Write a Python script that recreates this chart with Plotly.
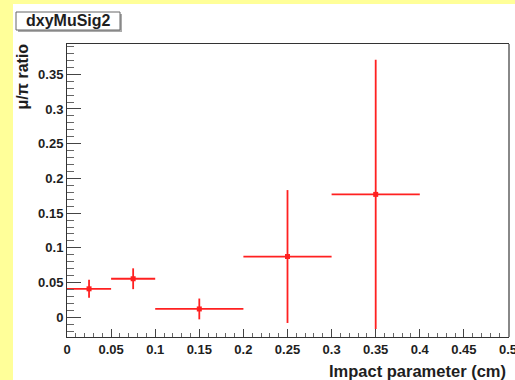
import plotly.graph_objects as go

# Bin centres, half-widths, ratio values and their uncertainties
bin_centres = [0.025, 0.075, 0.15, 0.25, 0.35]
bin_half_widths = [0.025, 0.025, 0.05, 0.05, 0.05]
ratio_values = [0.041, 0.0555, 0.012, 0.0875, 0.177]
ratio_errors = [0.013, 0.015, 0.015, 0.0957, 0.194]

x_tick_values = [0, 0.05, 0.1, 0.15, 0.2, 0.25, 0.3, 0.35, 0.4, 0.45, 0.5]
x_tick_labels = ["0", "0.05", "0.1", "0.15", "0.2", "0.25", "0.3", "0.35", "0.4", "0.45", "0.5"]
y_tick_values = [0, 0.05, 0.1, 0.15, 0.2, 0.25, 0.3, 0.35]
y_tick_labels = ["0", "0.05", "0.1", "0.15", "0.2", "0.25", "0.3", "0.35"]

W, H = 515, 380
L, R, T, B = 67, 7, 44, 43

FONT = "Liberation Sans, Arial, Helvetica, sans-serif"
RED = "#ff2020"
TEXT = "#1e1e1e"

fig = go.Figure()
fig.add_trace(go.Scatter(
    x=bin_centres,
    y=ratio_values,
    mode="markers",
    marker=dict(color=RED, size=5, symbol="square"),
    error_x=dict(type="data", array=bin_half_widths, symmetric=True,
                 color=RED, thickness=1.8, width=0),
    error_y=dict(type="data", array=ratio_errors, symmetric=True,
                 color=RED, thickness=1.8, width=0),
    showlegend=False,
))

axis_font = dict(family=FONT, size=13, color=TEXT, weight="bold")

fig.update_layout(
    width=W, height=H,
    margin=dict(l=L, r=R, t=T, b=B, pad=0, autoexpand=False),
    paper_bgcolor="#ffff99",
    plot_bgcolor="white",
    font=dict(family=FONT),
    xaxis=dict(
        range=[0, 0.5], automargin=False,
        tickvals=x_tick_values, ticktext=x_tick_labels,
        ticks="inside", ticklen=8, tickwidth=1, tickcolor="#444444",
        minor=dict(ticks="inside", ticklen=4, tickcolor="#666666", dtick=0.01, showgrid=False),
        showgrid=False, zeroline=False,
        showline=True, linecolor="#333333", linewidth=1, mirror=True,
        tickfont=axis_font, ticklabeloverflow="allow",
    ),
    yaxis=dict(
        range=[-0.0284, 0.3936], automargin=False,
        tickvals=y_tick_values, ticktext=y_tick_labels,
        ticks="inside", ticklen=14, tickwidth=1, tickcolor="#444444",
        minor=dict(ticks="inside", ticklen=7, tickcolor="#666666", dtick=0.01, showgrid=False),
        showgrid=False, zeroline=False,
        showline=True, linecolor="#333333", linewidth=1, mirror=True,
        tickfont=axis_font, ticklabeloverflow="allow",
    ),
)


def px_x(p):
    return (p - L) / (W - L - R)


def px_y(p):
    return (H - B - p) / (H - T - B)


# White canvas inside the yellow surround
fig.add_shape(type="rect", xref="paper", yref="paper", layer="below",
              x0=px_x(13), x1=px_x(W), y0=px_y(H), y1=px_y(4),
              fillcolor="white", line=dict(width=0))

# Frame shadow on the right side
fig.add_shape(type="line", xref="paper", yref="paper",
              x0=px_x(509), x1=px_x(509), y0=0, y1=1.0,
              line=dict(color="#888888", width=2))

# Title box with drop shadow
fig.add_shape(type="rect", xref="paper", yref="paper",
              x0=px_x(18), x1=px_x(122), y0=px_y(32), y1=px_y(14),
              fillcolor="#aaaaaa", line=dict(width=0))
fig.add_shape(type="rect", xref="paper", yref="paper",
              x0=px_x(16), x1=px_x(120), y0=px_y(30), y1=px_y(12),
              fillcolor="white", line=dict(color="#666666", width=1))
fig.add_annotation(text="dxyMuSig2", xref="paper", yref="paper",
                   x=px_x(68), y=px_y(21), xanchor="center", yanchor="middle",
                   showarrow=False,
                   font=dict(family=FONT, size=16, color=TEXT, weight="bold"))

# Axis titles
fig.add_annotation(text="μ/π ratio", xref="paper", yref="paper",
                   x=px_x(22.5), y=px_y(42), xanchor="center", yanchor="top",
                   textangle=-90, showarrow=False,
                   font=dict(family=FONT, size=16, color=TEXT, weight="bold"))
fig.add_annotation(text="Impact parameter (cm)", xref="paper", yref="paper",
                   x=px_x(508), y=px_y(371), xanchor="right", yanchor="middle",
                   showarrow=False,
                   font=dict(family=FONT, size=16.5, color=TEXT, weight="bold"))

fig.write_html("out.html")
